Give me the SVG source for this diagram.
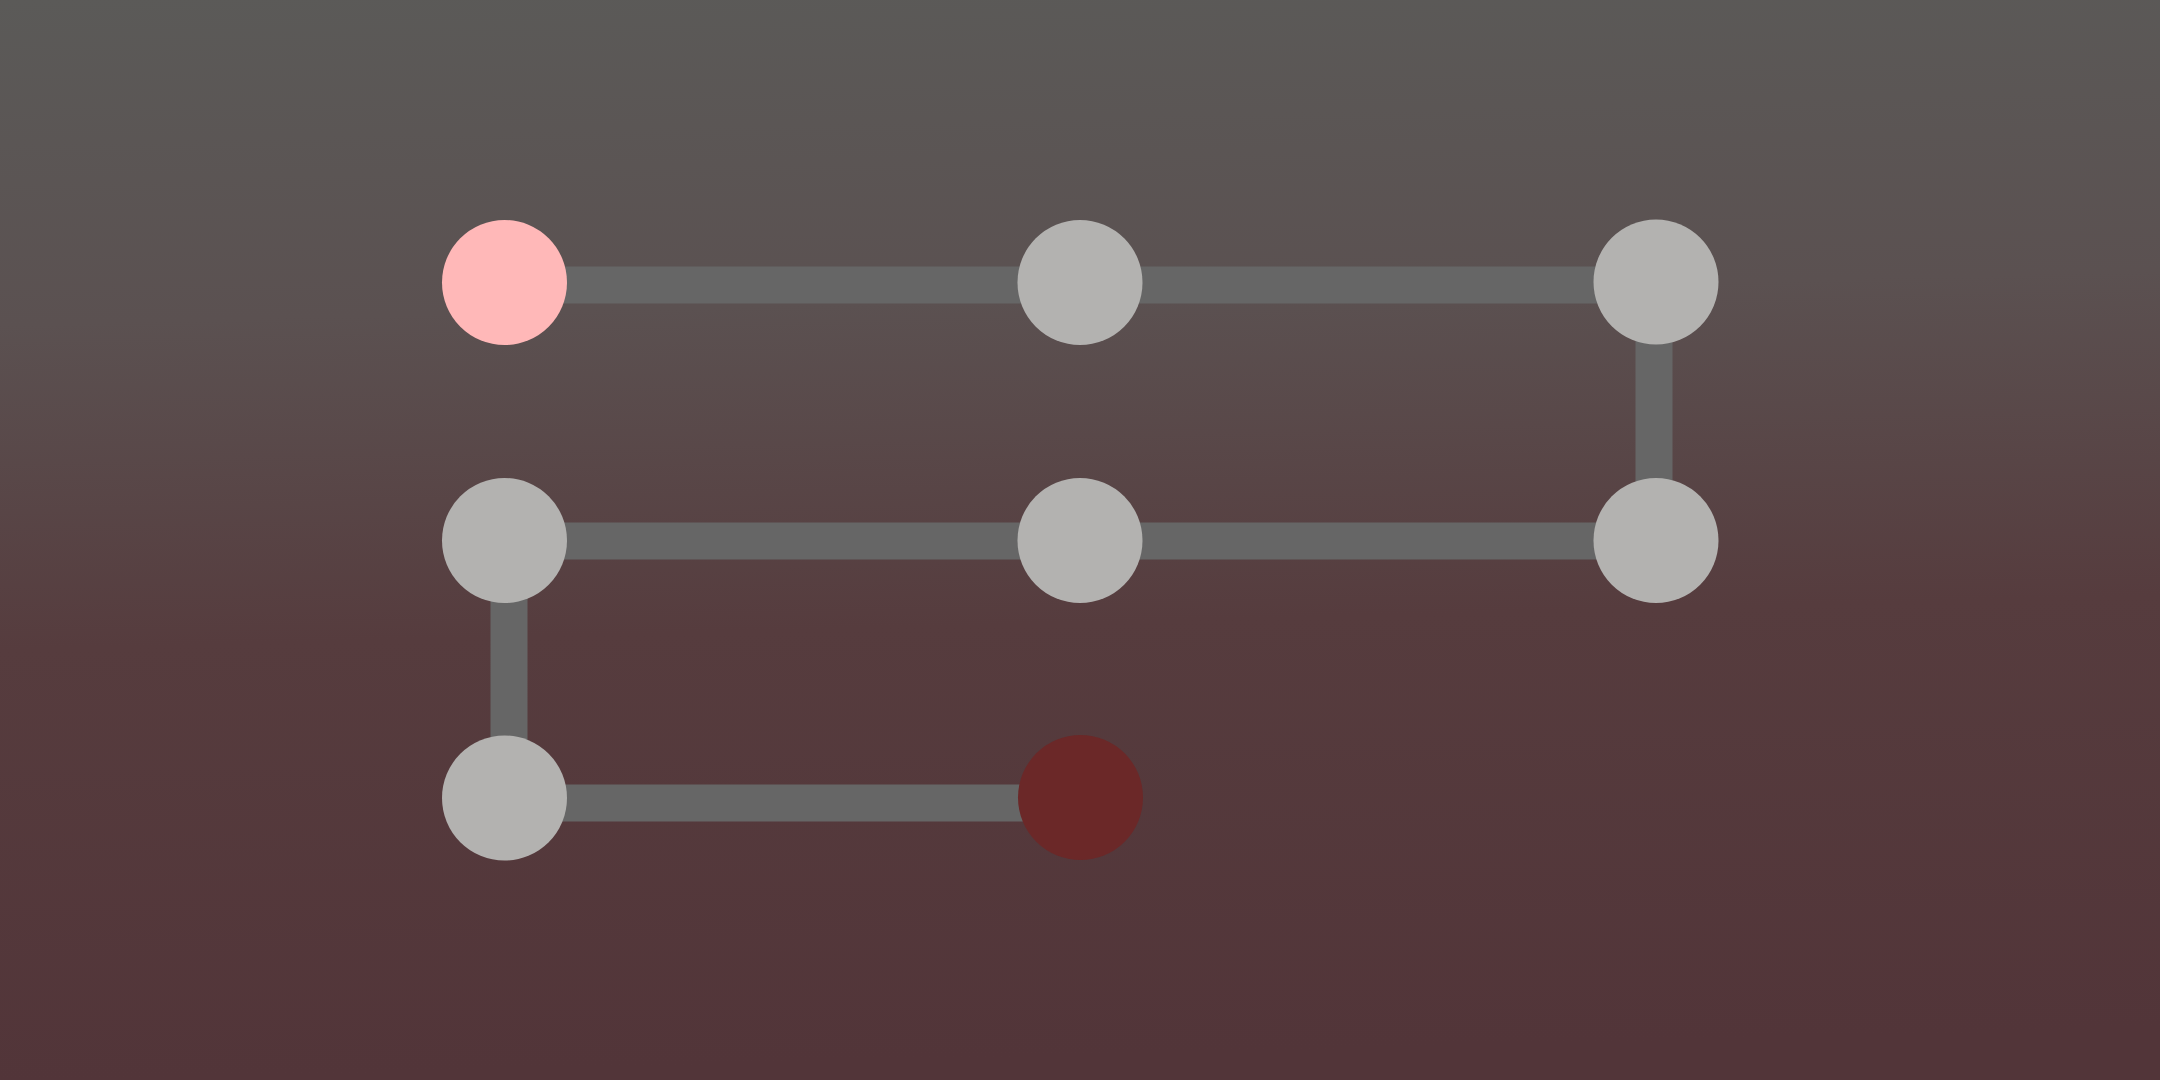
<svg xmlns="http://www.w3.org/2000/svg" width="2160" height="1080" viewBox="0 0 2160 1080">
<defs>
<linearGradient id="bg" x1="0" y1="0" x2="0.05" y2="1">
<stop offset="0" stop-color="#5b5a58"/>
<stop offset="0.3" stop-color="#5b5151"/>
<stop offset="0.6" stop-color="#563c3e"/>
<stop offset="1" stop-color="#523539"/>
</linearGradient>
<style>
.edge{stroke:#666666;stroke-width:37;fill:none;stroke-linecap:butt}
.n{fill:#b3b2b0}
.start{fill:#ffb8b8}
.end{fill:#6b2828}
</style>
</defs>
<rect x="0" y="0" width="2160" height="1080" fill="url(#bg)"/>
<g id="connectors">
<line class="edge" x1="504" y1="285" x2="1080" y2="285"/>
<line class="edge" x1="1080" y1="285" x2="1656" y2="285"/>
<line class="edge" x1="1654" y1="282" x2="1654" y2="540"/>
<line class="edge" x1="1656" y1="541" x2="1080" y2="541"/>
<line class="edge" x1="1080" y1="541" x2="504" y2="541"/>
<line class="edge" x1="509" y1="540" x2="509" y2="798"/>
<line class="edge" x1="504" y1="803" x2="1080" y2="803"/>
</g>
<g id="node-1"><circle class="start" cx="504.5" cy="282.5" r="62.5"/></g>
<g id="node-2"><circle class="n" cx="1080" cy="282.5" r="62.5"/></g>
<g id="node-3"><circle class="n" cx="1656" cy="282" r="62.5"/></g>
<g id="node-4"><circle class="n" cx="1656" cy="540.5" r="62.5"/></g>
<g id="node-5"><circle class="n" cx="1080" cy="540.5" r="62.5"/></g>
<g id="node-6"><circle class="n" cx="504.5" cy="540.5" r="62.5"/></g>
<g id="node-7"><circle class="n" cx="504.5" cy="798" r="62.5"/></g>
<g id="node-8"><circle class="end" cx="1080.5" cy="797.5" r="62.5"/></g>
</svg>
